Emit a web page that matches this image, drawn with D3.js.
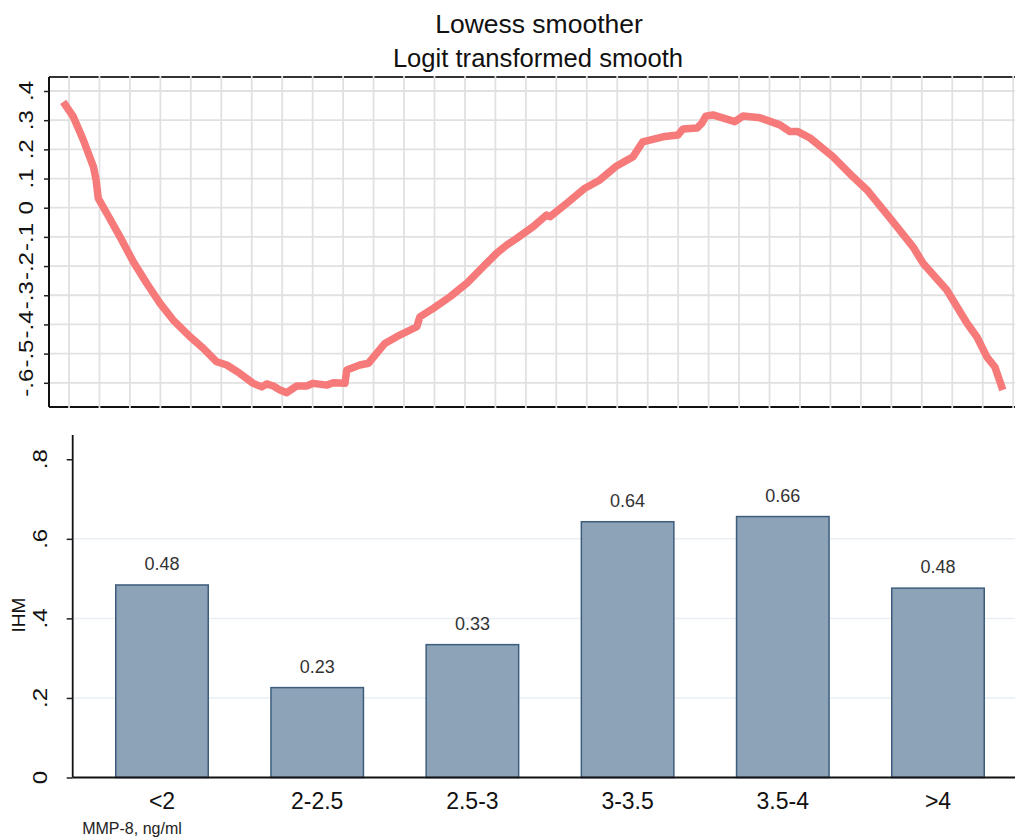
<!DOCTYPE html>
<html>
<head>
<meta charset="utf-8">
<script src="https://cdn.jsdelivr.net/npm/d3@7"></script>
<style>
  html, body { margin: 0; padding: 0; background: #fff; }
  svg { display: block; font-family: "Liberation Sans", Arial, Helvetica, sans-serif; }
</style>
</head>
<body>
<svg id="chart" width="1015" height="837"></svg>
<script>
// Lowess smooth (logit scale) along the MMP-8 axis, in grid units
const lowessX = [-0.19, 0.14, 0.47, 0.80, 0.89, 0.96, 1.24, 1.67, 2.11, 2.55, 2.99, 3.42, 3.97, 4.41,
  4.85, 5.18, 5.61, 6.05, 6.33, 6.49, 6.71, 6.93, 7.15, 7.48, 7.80, 8.02, 8.46, 8.68, 9.06, 9.12,
  9.55, 9.83, 10.10, 10.37, 10.76, 11.42, 11.52, 11.96, 12.51, 13.06, 13.60, 14.04, 14.37, 14.70,
  15.24, 15.68, 15.79, 16.34, 16.94, 17.43, 17.98, 18.52, 18.84, 19.50, 19.99, 20.16, 20.62, 20.78,
  20.91, 21.14, 21.86, 22.13, 22.69, 23.34, 23.67, 23.93, 24.33, 25.08, 25.74, 26.20, 26.95, 27.71,
  28.04, 28.82, 29.48, 29.81, 30.14, 30.40, 30.66];
const lowessY = [0.363, 0.312, 0.232, 0.141, 0.095, 0.032, -0.019, -0.099, -0.185, -0.259, -0.328,
  -0.385, -0.442, -0.482, -0.528, -0.539, -0.568, -0.602, -0.614, -0.604, -0.611, -0.625, -0.634,
  -0.611, -0.611, -0.602, -0.608, -0.600, -0.602, -0.556, -0.539, -0.533, -0.499, -0.465, -0.442,
  -0.408, -0.374, -0.345, -0.305, -0.259, -0.202, -0.156, -0.128, -0.105, -0.065, -0.025, -0.031,
  0.015, 0.067, 0.095, 0.143, 0.175, 0.226, 0.243, 0.249, 0.270, 0.273, 0.290, 0.314, 0.318, 0.295,
  0.314, 0.308, 0.284, 0.261, 0.261, 0.239, 0.175, 0.106, 0.061, -0.035, -0.134, -0.190, -0.282,
  -0.395, -0.443, -0.512, -0.546, -0.625];
const topTicks = [-0.6, -0.5, -0.4, -0.3, -0.2, -0.1, 0, 0.1, 0.2, 0.3, 0.4];
const topTickLabels = ["-.6", "-.5", "-.4", "-.3", "-.2", "-.1", "0", ".1", ".2", ".3", ".4"];
const topGridX = d3.range(0, 32);

// IHM rate by MMP-8 group
const categories = ["<2", "2-2.5", "2.5-3", "3-3.5", "3.5-4", ">4"];
const ihmValues = [0.484, 0.226, 0.334, 0.643, 0.656, 0.476];
const barTicks = [0, 0.2, 0.4, 0.6, 0.8];
const barTickLabels = ["0", ".2", ".4", ".6", ".8"];
const barGridTicks = [0.2, 0.4, 0.6];

const svg = d3.select("#chart");
const fmt = d3.format(".2f");

// ---------- titles ----------
svg.append("text").attr("x", 539).attr("y", 33).attr("text-anchor", "middle")
  .attr("font-size", 26.5).attr("fill", "#111").text("Lowess smoother");
svg.append("text").attr("x", 538).attr("y", 67).attr("text-anchor", "middle")
  .attr("font-size", 25.6).attr("fill", "#111").text("Logit transformed smooth");

// ---------- upper panel: lowess curve ----------
const xTop = d3.scaleLinear().domain([-0.657, 31.06]).range([49, 1015]);
const yTop = d3.scaleLinear().domain([-0.683, 0.448]).range([407, 77]);

const gTop = svg.append("g");
// frame lines (gridlines are painted over them)
gTop.append("line").attr("x1", 49).attr("x2", 1015).attr("y1", yTop(0.448)).attr("y2", yTop(0.448))
  .attr("stroke", "#333").attr("stroke-width", 1.8);
gTop.append("line").attr("x1", 49).attr("x2", 1015).attr("y1", yTop(-0.683)).attr("y2", yTop(-0.683))
  .attr("stroke", "#111").attr("stroke-width", 2);

// grid
gTop.append("g").selectAll("line").data(topTicks).join("line")
  .attr("x1", 50).attr("x2", 1015)
  .attr("y1", d => yTop(d)).attr("y2", d => yTop(d))
  .attr("stroke", "#e1e1e1").attr("stroke-width", 1.8);
gTop.append("g").selectAll("line").data(topGridX).join("line")
  .attr("x1", d => xTop(d)).attr("x2", d => xTop(d))
  .attr("y1", yTop(0.448) - 1).attr("y2", yTop(-0.683) + 1)
  .attr("stroke", "#e1e1e1").attr("stroke-width", 1.8);

// y axis
const yAxisTop = d3.axisLeft(yTop).tickValues(topTicks).tickSize(5).tickFormat("");
const gTopAxis = gTop.append("g").attr("transform", "translate(49,0)").call(yAxisTop);
gTopAxis.select(".domain").attr("stroke", "#111").attr("stroke-width", 2)
  .attr("d", `M0,${yTop(0.448)}V${yTop(-0.683)}`);
gTopAxis.selectAll(".tick line").attr("stroke", "#222").attr("stroke-width", 1.5);
gTop.append("g").selectAll("text").data(topTicks).join("text")
  .attr("transform", d => `translate(32.5,${yTop(d)}) rotate(-90) scale(1.2,1)`)
  .attr("text-anchor", "middle").attr("font-size", 20).attr("fill", "#111")
  .text((d, i) => topTickLabels[i]);

// curve
const line = d3.line().x((d, i) => xTop(lowessX[i])).y(d => yTop(d));
gTop.append("path").datum(lowessY).attr("d", line)
  .attr("fill", "none").attr("stroke", "#f67a7a").attr("stroke-width", 7.5)
  .attr("stroke-linejoin", "round").attr("stroke-linecap", "butt");

// ---------- lower panel: bar chart ----------
const xBar = d3.scaleBand().domain(categories).range([84.4, 1015.6])
  .paddingInner(0.404).paddingOuter(0.202);
const yBar = d3.scaleLinear().domain([0, 0.861]).range([777.5, 435]);

const gBot = svg.append("g");
gBot.append("g").selectAll("line").data(barGridTicks).join("line")
  .attr("x1", 74).attr("x2", 1015)
  .attr("y1", d => yBar(d)).attr("y2", d => yBar(d))
  .attr("stroke", "#e9eff5").attr("stroke-width", 1.5);

gBot.append("g").selectAll("rect").data(ihmValues).join("rect")
  .attr("x", (d, i) => xBar(categories[i]))
  .attr("width", xBar.bandwidth())
  .attr("y", d => yBar(d))
  .attr("height", d => yBar(0) - yBar(d))
  .attr("fill", "#8da3b8").attr("stroke", "#3d5d7d").attr("stroke-width", 1.5);

gBot.append("g").selectAll("text").data(ihmValues).join("text")
  .attr("x", (d, i) => xBar(categories[i]) + xBar.bandwidth() / 2)
  .attr("y", d => yBar(d) - 15)
  .attr("text-anchor", "middle").attr("font-size", 18).attr("fill", "#333")
  .text(d => fmt(d));

// x axis
const xAxisBar = d3.axisBottom(xBar).tickSize(0).tickPadding(0);
const gx = gBot.append("g").attr("transform", `translate(0,${yBar(0)})`).call(xAxisBar);
gx.select(".domain").attr("stroke", "#111").attr("stroke-width", 1.8)
  .attr("d", `M72.7,0H1015`);
gx.selectAll(".tick text").attr("font-size", 23).attr("fill", "#111")
  .attr("font-family", "Liberation Sans, Arial, sans-serif")
  .attr("dy", null).attr("y", 31);

// y axis
const yAxisBar = d3.axisLeft(yBar).tickValues(barTicks).tickSize(6).tickFormat("");
const gy = gBot.append("g").attr("transform", "translate(72.7,0)").call(yAxisBar);
gy.select(".domain").attr("stroke", "#111").attr("stroke-width", 1.8)
  .attr("d", `M0,${yBar(0.861)}V${yBar(0)}`);
gy.selectAll(".tick line").attr("stroke", "#222").attr("stroke-width", 1.5);
gBot.append("g").selectAll("text").data(barTicks).join("text")
  .attr("transform", d => `translate(47,${yBar(d)}) rotate(-90) scale(1.2,1)`)
  .attr("text-anchor", "middle").attr("font-size", 20).attr("fill", "#111")
  .text((d, i) => barTickLabels[i]);

// axis titles
svg.append("text").attr("transform", "translate(25,615) rotate(-90)")
  .attr("text-anchor", "middle").attr("font-size", 19).attr("fill", "#111").text("IHM");
svg.append("text").attr("x", 132).attr("y", 834).attr("text-anchor", "middle")
  .attr("font-size", 16).attr("fill", "#222").text("MMP-8, ng/ml");
</script>
</body>
</html>
